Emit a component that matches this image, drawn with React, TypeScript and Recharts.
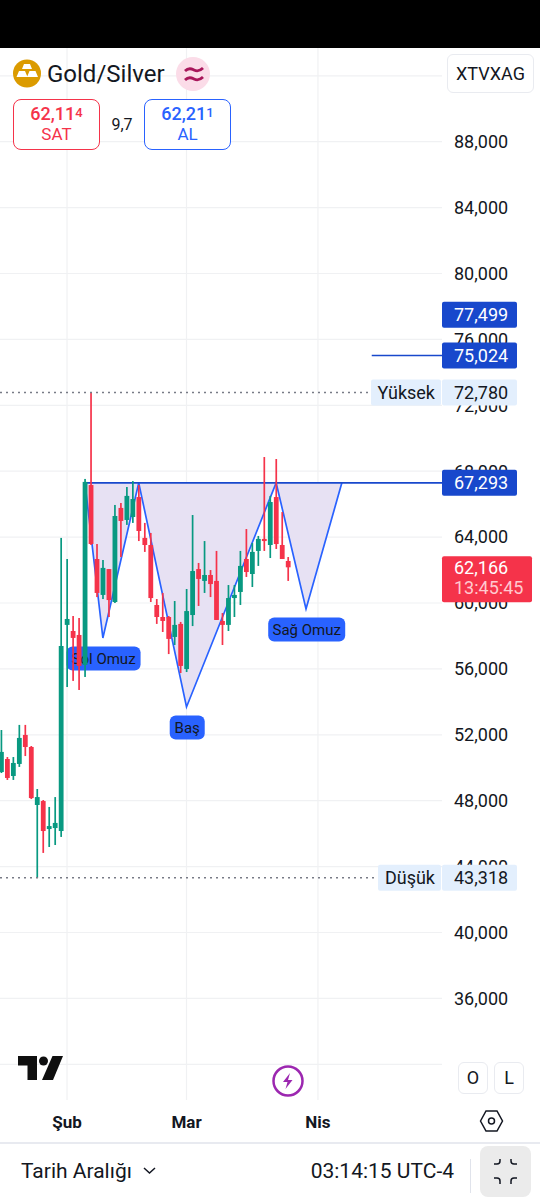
import {
  Area,
  Bar,
  CartesianGrid,
  ComposedChart,
  Line,
  ReferenceLine,
  XAxis,
  YAxis,
} from "recharts";

const opens = [
  49740, 50530, 49500, 50230, 51990, 51260, 47740, 47980, 46280, 46340, 46160,
  58670, 58300, 58060, 56240, 67160, 62670, 60490, 62060, 60060, 65770, 65040,
  65220, 66430, 63950, 63520, 59880, 59150, 59150, 57940, 58730, 55990, 59270,
  62060, 61340, 61700, 61340, 58910, 58670, 60300, 60670, 62670, 61760, 63160,
  63890, 63520, 66430, 63520, 62550,
];
const closes = [
  50960, 49380, 50290, 51810, 51260, 48160, 48220, 46160, 46460, 46650, 57390,
  59030, 57880, 56180, 67350, 63580, 60610, 62130, 60180, 65280, 64980, 66500,
  66310, 64370, 63520, 60300, 59150, 58910, 57820, 58670, 56180, 59510, 61940,
  61460, 61700, 61150, 58970, 58670, 60300, 60490, 62250, 61880, 63100, 63890,
  63760, 66130, 63580, 62670, 62166,
];
const highs = [
  52290, 50650, 50650, 52600, 52600, 51320, 48710, 48040, 47620, 48220, 63950,
  62670, 59210, 59090, 67530, 72780, 63580, 62610, 62060, 65950, 66070, 67040,
  67400, 67160, 64860, 64250, 60240, 60610, 59210, 60120, 58850, 60850, 65340,
  62430, 63760, 62000, 63160, 59390, 61090, 61090, 63160, 64490, 63640, 64070,
  68860, 66500, 68740, 65520, 62790,
];
const lows = [
  49680, 49260, 49260, 50050, 50710, 48100, 43318, 44830, 45190, 45310, 45800,
  54900, 55270, 54720, 55510, 63520, 60360, 60240, 59150, 60000, 62790, 64740,
  64860, 63760, 63100, 60060, 58730, 58240, 56900, 57450, 55750, 55810, 58600,
  59820, 60610, 60360, 58970, 57450, 58300, 59150, 59880, 61580, 60970, 62250,
  63160, 62730, 63280, 62670, 61340,
];

const monthTicks = [11, 31, 53];
const monthLabels = ["Şub", "Mar", "Nis"];
const priceTicks = [
  36000, 40000, 44000, 48000, 52000, 56000, 60000, 64000, 68000, 72000, 76000,
  80000, 84000, 88000,
];
const gridPrices = [32000, ...priceTicks, 92000];

const neckline = 67293;
const patternSlots = [14, 17, 23, 31, 46, 51, 57];
const patternPrices = [neckline, 57875, neckline, 53690, neckline, 59640, neckline];
const patternNames = ["Sol Omuz", "Baş", "Sağ Omuz"];
const patternNameSlots = [17, 31, 51];
const patternNamePrices = [57875, 53690, 59640];

const candles = opens.map((open, i) => ({
  slot: i,
  open,
  close: closes[i],
  high: highs[i],
  low: lows[i],
}));
const patternData = patternSlots.map((slot, i) => ({
  slot,
  price: patternPrices[i],
  band: [patternPrices[i], neckline],
}));
const nameData = patternNames.map((name, i) => ({
  slot: patternNameSlots[i],
  price: patternNamePrices[i],
  name,
}));

const GREEN = "#089981";
const RED = "#F5334A";
const BLUE = "#2962FF";
const DARK_BLUE = "#1848CC";
const PALE = "#E3EFFD";
const INK = "#131722";
const FONT = "Roboto, sans-serif";
const SLOT_DOMAIN = [-0.218, 73.76];
const PRICE_DOMAIN = [29833, 93687];

function Candle(props: any) {
  const { x, y, width, height, payload } = props;
  const { open, close, high, low } = payload;
  const perUnit = height / (high - low);
  const top = y + (high - Math.max(open, close)) * perUnit;
  const bottom = y + (high - Math.min(open, close)) * perUnit;
  const color = close >= open ? GREEN : RED;
  const mid = x + width / 2 + 0.6;
  return (
    <g>
      <rect x={mid - 0.85} y={y} width={1.7} height={height} fill={color} />
      <rect
        x={mid - 2.4}
        y={top}
        width={4.8}
        height={Math.max(bottom - top, 1.5)}
        fill={color}
      />
    </g>
  );
}

function NameTag(props: any) {
  const { cx, cy, payload } = props;
  if (cx == null || !payload) return null;
  const w = payload.name === "Baş" ? 35 : payload.name === "Sol Omuz" ? 74 : 77;
  return (
    <g>
      <rect
        x={cx + 0.7 - w / 2}
        y={cy + 8.5}
        width={w}
        height={24}
        rx={6}
        fill={BLUE}
      />
      <text
        x={cx + 0.7}
        y={cy + 26}
        textAnchor="middle"
        fontSize={15}
        fontFamily={FONT}
        fill={INK}
      >
        {payload.name}
      </text>
    </g>
  );
}

function priceTag(text: string, bg: string, color: string, side?: string, extra?: string) {
  return (props: any) => {
    const { viewBox } = props;
    const left = viewBox.x + viewBox.width;
    const cy = viewBox.y;
    return (
      <g fontFamily={FONT} fontSize={18}>
        {side && (
          <g>
            <rect
              x={left - (side === "Yüksek" ? 71 : 64)}
              y={cy - 13}
              width={side === "Yüksek" ? 70 : 63}
              height={26}
              rx={2}
              fill={PALE}
            />
            <text x={left - 7} y={cy + 6.5} textAnchor="end" fill={INK}>
              {side}
            </text>
          </g>
        )}
        <rect
          x={left}
          y={cy - 11 - (extra ? 0 : 2)}
          width={extra ? 90 : 75}
          height={extra ? 46 : 26}
          rx={2}
          fill={bg}
        />
        <text x={left + 12} y={cy + 6.5} fill={color}>
          {text}
        </text>
        {extra && (
          <text x={left + 12} y={cy + 27} fill="#FFC9CF">
            {extra}
          </text>
        )}
      </g>
    );
  };
}

function QuoteBox({
  left,
  color,
  main,
  small,
  label,
}: {
  left: number;
  color: string;
  main: string;
  small: string;
  label: string;
}) {
  return (
    <div
      style={{
        position: "absolute",
        left,
        top: 99,
        width: 85,
        height: 49,
        border: `1.6px solid ${color}`,
        borderRadius: 8,
        background: "#fff",
        color,
        textAlign: "center",
        fontSize: 17,
        lineHeight: "20px",
      }}
    >
      <div style={{ fontWeight: 500, fontSize: 18, marginTop: 3 }}>
        {main}
        <span style={{ fontSize: 13, verticalAlign: 3 }}>{small}</span>
      </div>
      <div>{label}</div>
    </div>
  );
}

function Overlay() {
  return (
    <>
      <div
        style={{
          position: "absolute",
          left: 0,
          top: 0,
          width: 540,
          height: 48,
          background: "#000",
        }}
      />
      <svg
        style={{ position: "absolute", left: 0, top: 0 }}
        width={540}
        height={1200}
      >
        <circle cx={27} cy={73.5} r={14} fill="#DB9B00" />
        <path d="M24 64h6l2 5H22z M16.500 77l2.500-6h6l2.500 6z M27 77l2.500-6h6l2.500 6z" fill="#fff" />
        <circle cx={193} cy={74} r={17} fill="#FBDCE8" />
        <g fill="none" stroke="#A8165A" strokeWidth={2.8}>
          <path d="M185 71c4-4 7-2 9-1s5 2 9-2" />
          <path d="M185 80c4-4 7-2 9-1s5 2 9-2" />
        </g>
        <path d="M18 1056h19v24h-9.500v-14.500H18z" fill="#0F0F0F" />
        <circle cx={43.500} cy={1061} r={4.500} fill="#0F0F0F" />
        <path d="M52.500 1056H63l-10 24H42z" fill="#0F0F0F" />
        <circle cx={288} cy={1081} r={14.500} fill="#fff" stroke="#9C27B0" strokeWidth={2.500} />
        <path d="M290 1073l-7 9h4.500l-2 7 7-9h-4.500z" fill="#9C27B0" />
        <path d="M480.500 1121l5.500-10h11l5.500 10-5.500 10h-11z" fill="none" stroke={INK} strokeWidth={1.500} />
        <circle cx={491.500} cy={1121} r={3} fill="none" stroke={INK} strokeWidth={1.500} />
        <path d="M144 1168l5.500 5 5.500-5" fill="none" stroke={INK} strokeWidth={1.500} />
        <line x1={0} x2={540} y1={1143} y2={1143} stroke="#E0E3EB" strokeWidth={1.500} />
        <line x1={470.500} x2={470.500} y1={1159} y2={1193} stroke="#E0E3EB" />
        <rect x={480} y={1146} width={51} height={51} rx={8} fill="#EBEBEB" />
        <g fill="none" stroke={INK} strokeWidth={1.500}>
          <path d="M494 1164h3a3 3 0 0 0 3-3v-2" />
          <path d="M517 1164h-3a3 3 0 0 1-3-3v-2" />
          <path d="M494 1178h3a3 3 0 0 1 3 3v3" />
          <path d="M517 1178h-3a3 3 0 0 0-3 3v3" />
        </g>
      </svg>
      <div
        style={{
          position: "absolute",
          left: 47,
          top: 60,
          fontSize: 24,
          lineHeight: "28px",
          color: INK,
        }}
      >
        Gold/Silver
      </div>
      <QuoteBox left={13} color={RED} main="62,11" small="4" label="SAT" />
      <div
        style={{
          position: "absolute",
          left: 102,
          width: 40,
          textAlign: "center",
          top: 115,
          fontSize: 16,
          lineHeight: "20px",
          color: INK,
        }}
      >
        9,7
      </div>
      <QuoteBox left={144} color={BLUE} main="62,21" small="1" label="AL" />
      <div
        style={{
          position: "absolute",
          left: 447,
          top: 54,
          width: 85,
          height: 37,
          border: "1px solid #E9EBF0",
          borderRadius: 6,
          background: "#fff",
          color: INK,
          textAlign: "center",
          fontSize: 18,
          lineHeight: "37px",
        }}
      >
        XTVXAG
      </div>
      {["O", "L"].map((label, i) => (
        <div
          key={label}
          style={{
            position: "absolute",
            left: 458 + i * 36,
            top: 1062,
            width: 28,
            height: 30,
            border: "1px solid #E9EBF0",
            borderRadius: 6,
            background: "#fff",
            color: INK,
            textAlign: "center",
            fontSize: 18,
            lineHeight: "30px",
          }}
        >
          {label}
        </div>
      ))}
      <div
        style={{
          position: "absolute",
          left: 21,
          top: 1158,
          fontSize: 21,
          lineHeight: "26px",
          color: INK,
        }}
      >
        Tarih Aralığı
      </div>
      <div
        style={{
          position: "absolute",
          right: 86,
          top: 1158,
          fontSize: 21,
          lineHeight: "26px",
          color: INK,
        }}
      >
        03:14:15 UTC-4
      </div>
    </>
  );
}

const layerStyle = { position: "absolute", left: 0, top: 0 } as const;

export default function App() {
  return (
    <div
      style={{
        position: "absolute",
        left: 0,
        top: 0,
        width: 540,
        height: 1200,
        overflow: "hidden",
        background: "#fff",
        fontFamily: FONT,
      }}
    >
      {/* grid, axes and the whole pattern sit under the candles */}
      <div style={layerStyle}>
        <ComposedChart
          width={540}
          height={1200}
          data={candles}
          margin={{ top: 48, right: 0, bottom: 58, left: 0 }}
        >
          <CartesianGrid
            stroke="#F0F1F3"
            strokeWidth={1.2}
            horizontalValues={gridPrices}
            verticalValues={monthTicks}
          />
          <XAxis
            dataKey="slot"
            type="number"
            domain={SLOT_DOMAIN}
            allowDataOverflow
            ticks={monthTicks}
            tickFormatter={(v: number) => monthLabels[monthTicks.indexOf(v)]}
            axisLine={false}
            tickLine={false}
            tickMargin={10}
            height={42}
            tick={{ fontSize: 17, fontWeight: 700, fill: INK, fontFamily: FONT }}
          />
          <YAxis
            orientation="right"
            type="number"
            domain={PRICE_DOMAIN}
            allowDataOverflow
            ticks={priceTicks}
            width={98}
            axisLine={false}
            tickLine={false}
            tickMargin={6}
            tickFormatter={(v: number) => v.toLocaleString("en-US")}
            tick={{ fontSize: 18, fill: INK, fontFamily: FONT, textAnchor: "start" }}
          />
          <Area
            data={patternData}
            dataKey="band"
            type="linear"
            stroke="none"
            fill="#E7E1F3"
            fillOpacity={1}
            dot={false}
            activeDot={false}
            isAnimationActive={false}
          />
          <Line
            data={nameData}
            dataKey="price"
            stroke="none"
            dot={<NameTag />}
            activeDot={false}
            isAnimationActive={false}
          />
          <Line
            data={patternData}
            dataKey="price"
            type="linear"
            stroke={BLUE}
            strokeWidth={1.7}
            dot={false}
            activeDot={false}
            isAnimationActive={false}
          />
          <ReferenceLine
            segment={[
              { x: 14, y: neckline },
              { x: 73.76, y: neckline },
            ]}
            stroke={DARK_BLUE}
            strokeWidth={1.8}
          />
        </ComposedChart>
      </div>
      {/* candles and price tags on top */}
      <div style={layerStyle}>
        <ComposedChart
          width={540}
          height={1200}
          data={candles}
          margin={{ top: 48, right: 98, bottom: 100, left: 0 }}
        >
          <XAxis
            hide
            dataKey="slot"
            type="number"
            domain={SLOT_DOMAIN}
            allowDataOverflow
          />
          <YAxis hide type="number" domain={PRICE_DOMAIN} allowDataOverflow />
          <Bar
            dataKey={(d: any) => [d.low, d.high]}
            barSize={5}
            shape={<Candle />}
            isAnimationActive={false}
          />
          <ReferenceLine
            segment={[
              { x: 62, y: 75024 },
              { x: 73.76, y: 75024 },
            ]}
            stroke={DARK_BLUE}
            strokeWidth={1.5}
          />
          <ReferenceLine
            segment={[
              { x: -0.218, y: 72780 },
              { x: 61.7, y: 72780 },
            ]}
            stroke="#787B86"
            strokeDasharray="2 4"
            strokeWidth={1.5}
          />
          <ReferenceLine
            segment={[
              { x: -0.218, y: 43318 },
              { x: 63, y: 43318 },
            ]}
            stroke="#787B86"
            strokeDasharray="2 4"
            strokeWidth={1.5}
          />
          <ReferenceLine y={77499} stroke="none" label={priceTag("77,499", DARK_BLUE, "#fff")} />
          <ReferenceLine y={75024} stroke="none" label={priceTag("75,024", DARK_BLUE, "#fff")} />
          <ReferenceLine y={72780} stroke="none" label={priceTag("72,780", PALE, INK, "Yüksek")} />
          <ReferenceLine y={67293} stroke="none" label={priceTag("67,293", DARK_BLUE, "#fff")} />
          <ReferenceLine y={62166} stroke="none" label={priceTag("62,166", RED, "#fff", undefined, "13:45:45")} />
          <ReferenceLine y={43318} stroke="none" label={priceTag("43,318", PALE, INK, "Düşük")} />
        </ComposedChart>
      </div>
      <Overlay />
    </div>
  );
}
